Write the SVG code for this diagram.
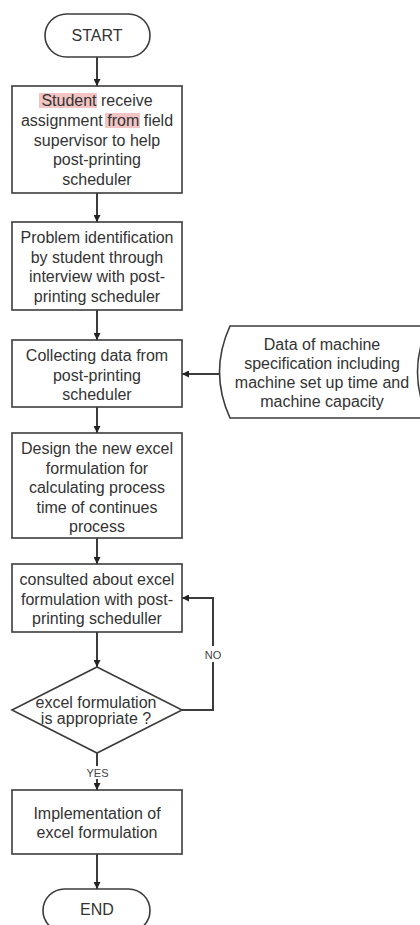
<svg xmlns="http://www.w3.org/2000/svg" width="420" height="925" viewBox="0 0 420 925">
  <style>
    .shape { fill: #ffffff; stroke: #3c3c3c; stroke-width: 1.6; }
    .conn { fill: none; stroke: #3c3c3c; stroke-width: 2; }
    .txt { font-family: "Liberation Sans", Arial, sans-serif; font-size: 16px; fill: #333333; text-anchor: middle; }
    .lbl { font-family: "Liberation Sans", Arial, sans-serif; font-size: 11px; fill: #444444; text-anchor: middle; }
    .hl { fill: #f2c4c4; }
  </style>
  <defs>
    <marker id="arrow" viewBox="0 0 8 8" refX="8" refY="4" markerWidth="7" markerHeight="7" markerUnits="userSpaceOnUse" orient="auto">
      <path d="M0,0 L8,4 L0,8 Z" fill="#222222"/>
    </marker>
  </defs>
  <rect width="420" height="925" fill="#ffffff"/>

  <!-- connectors -->
  <g id="connectors">
    <line class="conn" x1="97" y1="57" x2="97" y2="86" marker-end="url(#arrow)"/>
    <line class="conn" x1="97" y1="193" x2="97" y2="222" marker-end="url(#arrow)"/>
    <line class="conn" x1="97" y1="310" x2="97" y2="340" marker-end="url(#arrow)"/>
    <line class="conn" x1="97" y1="407" x2="97" y2="433" marker-end="url(#arrow)"/>
    <line class="conn" x1="97" y1="538" x2="97" y2="564" marker-end="url(#arrow)"/>
    <line class="conn" x1="97" y1="632" x2="97" y2="667" marker-end="url(#arrow)"/>
    <line class="conn" x1="97" y1="753" x2="97" y2="766"/>
    <line class="conn" x1="97" y1="779" x2="97" y2="790" marker-end="url(#arrow)"/>
    <line class="conn" x1="97" y1="854" x2="97" y2="889" marker-end="url(#arrow)"/>
    <line class="conn" x1="219" y1="374" x2="182" y2="374" stroke-width="1.5" marker-end="url(#arrow)"/>
    <polyline class="conn" points="182,710 213,710 213,662"/>
    <polyline class="conn" points="213,646 213,598 182,598" marker-end="url(#arrow)"/>
    <text class="lbl" x="97.5" y="777">YES</text>
    <text class="lbl" x="213" y="659" font-size="12">NO</text>
  </g>

  <g id="start">
    <rect class="shape" x="45" y="14" width="105" height="43" rx="21.5"/>
    <text class="txt" x="97" y="41">START</text>
  </g>

  <g id="assignment">
    <rect class="shape" x="12" y="86" width="170" height="107"/>
    <rect class="hl" x="39" y="93" width="58" height="15"/>
    <rect class="hl" x="105" y="113" width="35" height="15"/>
    <text class="txt" x="97" y="106">Student receive</text>
    <text class="txt" x="97" y="126">assignment from field</text>
    <text class="txt" x="97" y="146">supervisor to help</text>
    <text class="txt" x="97" y="165">post-printing</text>
    <text class="txt" x="97" y="185">scheduler</text>
  </g>

  <g id="problem">
    <rect class="shape" x="12" y="222" width="170" height="88"/>
    <text class="txt" x="97" y="243">Problem identification</text>
    <text class="txt" x="97" y="262.5">by student  through</text>
    <text class="txt" x="97" y="282">interview with post-</text>
    <text class="txt" x="97" y="301.5">printing scheduler</text>
  </g>

  <g id="collect">
    <rect class="shape" x="12" y="340" width="170" height="67"/>
    <text class="txt" x="97" y="361">Collecting data from</text>
    <text class="txt" x="97" y="380.5">post-printing</text>
    <text class="txt" x="97" y="400">scheduler</text>
  </g>

  <g id="machine-data">
    <path class="shape" d="M230,326 L428,326 Q407,372 428,418 L230,418 Q209,372 230,326 Z"/>
    <text class="txt" x="322" y="350">Data of machine</text>
    <text class="txt" x="322" y="369">specification including</text>
    <text class="txt" x="322" y="388">machine set up time and</text>
    <text class="txt" x="322" y="407">machine capacity</text>
  </g>

  <g id="design">
    <rect class="shape" x="12" y="433" width="170" height="105"/>
    <text class="txt" x="97" y="454">Design the new excel</text>
    <text class="txt" x="97" y="473.5">formulation for</text>
    <text class="txt" x="97" y="493">calculating process</text>
    <text class="txt" x="97" y="512.5">time of continues</text>
    <text class="txt" x="97" y="532">process</text>
  </g>

  <g id="consult">
    <rect class="shape" x="12" y="564" width="170" height="68"/>
    <text class="txt" x="97" y="585">consulted about excel</text>
    <text class="txt" x="97" y="604.5">formulation with post-</text>
    <text class="txt" x="97" y="624">printing scheduller</text>
  </g>

  <g id="decision">
    <polygon class="shape" points="97,667 182,710 97,753 12,710"/>
    <text class="txt" x="96" y="708">excel formulation</text>
    <text class="txt" x="96" y="724">is appropriate ?</text>
  </g>

  <g id="implement">
    <rect class="shape" x="12" y="790" width="170" height="64"/>
    <text class="txt" x="97" y="819">Implementation of</text>
    <text class="txt" x="97" y="838">excel formulation</text>
  </g>

  <g id="end">
    <rect class="shape" x="43" y="889" width="107" height="43" rx="21.5"/>
    <text class="txt" x="97" y="915">END</text>
  </g>
</svg>
